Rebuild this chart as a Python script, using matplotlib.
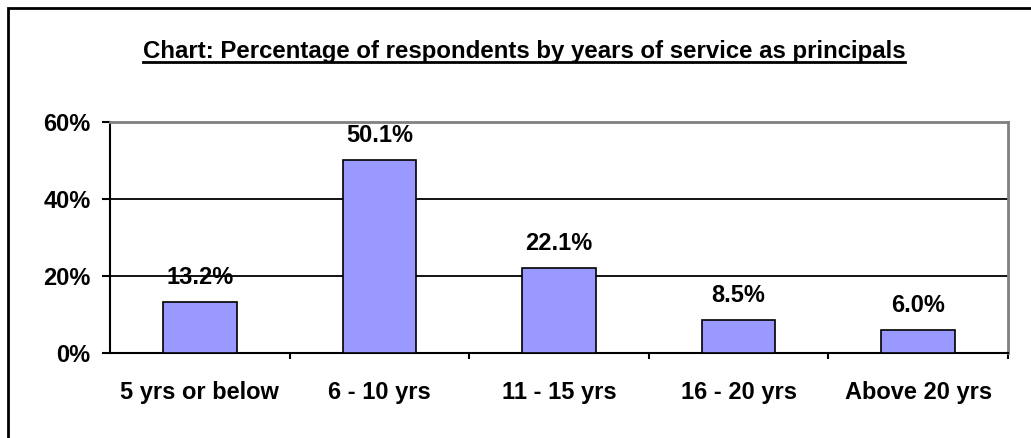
import matplotlib
matplotlib.use("Agg")
import matplotlib.pyplot as plt
from matplotlib.lines import Line2D
from matplotlib.patches import Rectangle
from matplotlib.ticker import FixedLocator, FuncFormatter

plt.rcParams["font.family"] = ["Liberation Sans", "DejaVu Sans"]
plt.rcParams["font.weight"] = "bold"

categories = ["5 yrs or below", "6 - 10 yrs", "11 - 15 yrs", "16 - 20 yrs", "Above 20 yrs"]
percent = [13.2, 50.1, 22.1, 8.5, 6.0]
y_ticks = [0, 20, 40, 60]
title = "Chart: Percentage of respondents by years of service as principals"

W, H = 1031, 438
fig = plt.figure(figsize=(W / 100, H / 100), dpi=100)
fig.patch.set_facecolor("white")

# outer chart frame (only left and top edges fall inside the canvas)
fig.add_artist(Rectangle((8 / W, -0.5), 2, 1.5 - 8 / H, transform=fig.transFigure,
                         fill=False, edgecolor="black", linewidth=2.0))

ax = fig.add_axes([110 / W, 1 - 353 / H, 898 / W, 231 / H])
x = list(range(len(categories)))
bars = ax.bar(x, percent, width=0.41, color="#9999FF", edgecolor="black",
              linewidth=1.2, zorder=3)

ax.set_xlim(-0.5, len(categories) - 0.5)
ax.set_ylim(0, 60)

for gy in y_ticks[1:-1]:
    ax.axhline(gy, color="black", linewidth=1.3, zorder=1)

ax.spines["top"].set_color("#808080")
ax.spines["top"].set_linewidth(2.0)
ax.spines["right"].set_color("#808080")
ax.spines["right"].set_linewidth(2.0)
ax.spines["left"].set_linewidth(1.5)
ax.spines["bottom"].set_linewidth(1.5)

ax.set_yticks(y_ticks)
ax.yaxis.set_major_formatter(FuncFormatter(lambda v, _: f"{v:.0f}%"))
ax.tick_params(axis="y", direction="out", length=6, width=1.5, pad=8,
               labelsize=17)

ax.set_xticks(x)
ax.set_xticklabels(categories)
ax.xaxis.set_minor_locator(FixedLocator([i + 0.5 for i in range(len(categories))]))
ax.tick_params(axis="x", which="major", length=0, pad=20, labelsize=17)
ax.tick_params(axis="x", which="minor", direction="out", length=4.5, width=1.5)

for rect, v in zip(bars, percent):
    ax.annotate(f"{v:.1f}%", (rect.get_x() + rect.get_width() / 2, v),
                xytext=(0, 13), textcoords="offset points",
                ha="center", va="baseline", fontsize=17, fontweight="bold",
                zorder=4)

# title with a drawn underline
t = fig.text(524 / W, 1 - 58 / H, title, ha="center", va="baseline",
             fontsize=17.3, fontweight="bold")
fig.canvas.draw()
bb = t.get_window_extent(fig.canvas.get_renderer())
uy = 1 - 62 / H
fig.add_artist(Line2D([bb.x0 / W, bb.x1 / W], [uy, uy], transform=fig.transFigure,
                      color="black", linewidth=2.0))

fig.savefig("out.png", dpi=100)
